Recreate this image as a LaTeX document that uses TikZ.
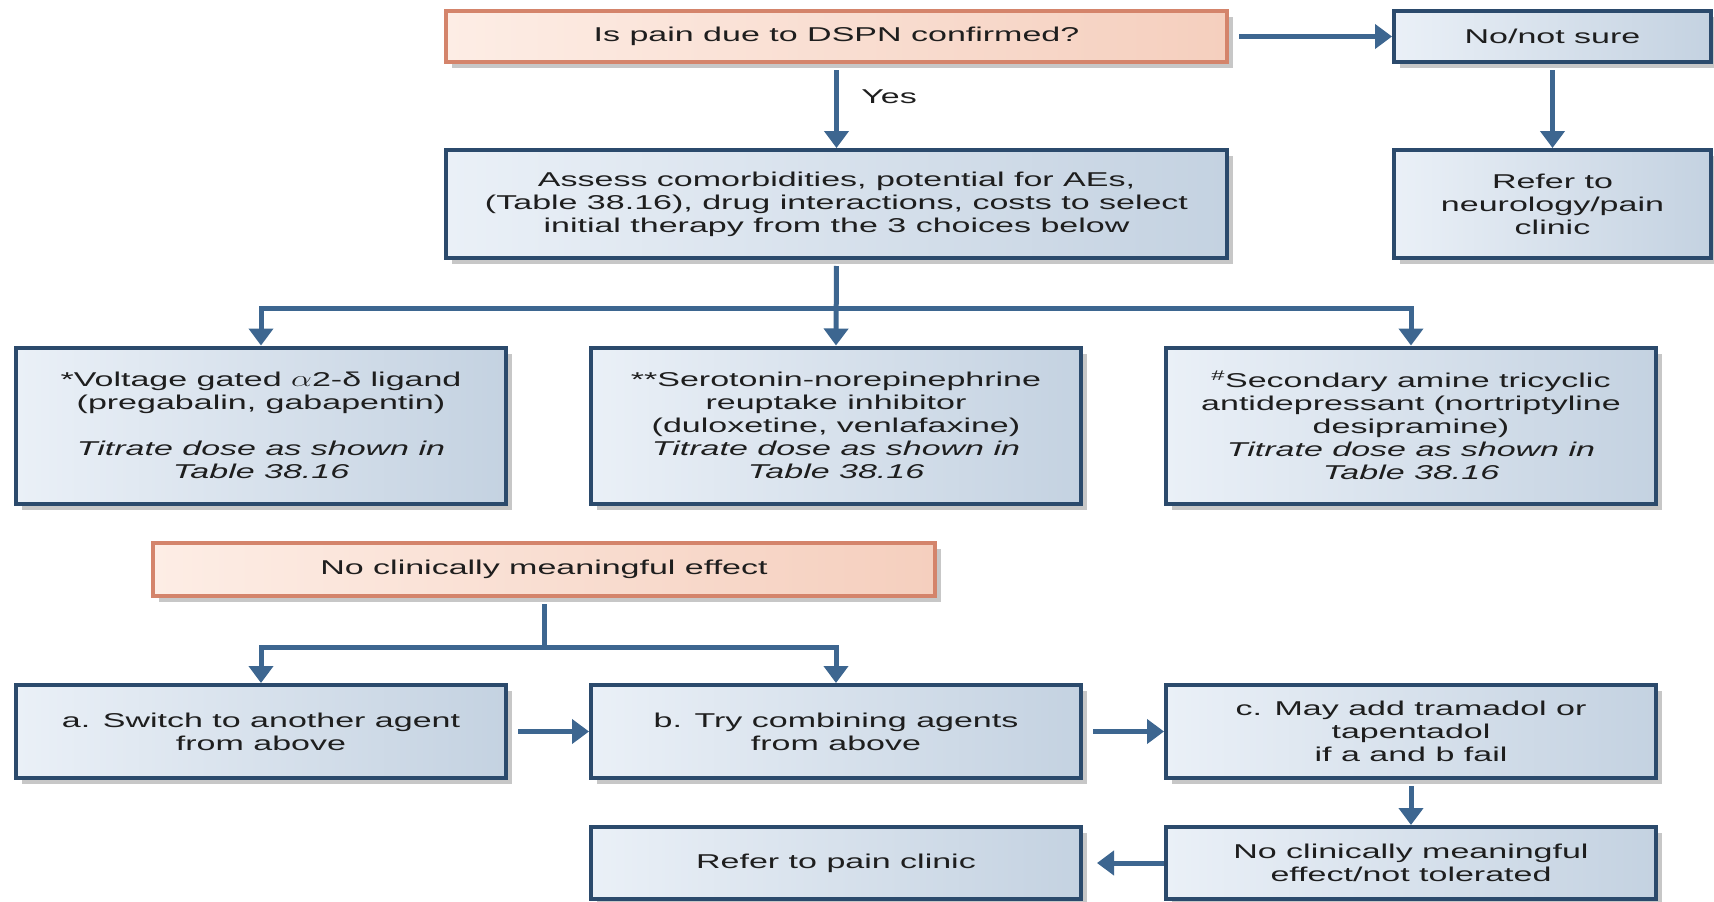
\documentclass[tikz,border=0pt]{standalone}
\usepackage{fontspec}
\setmainfont{Liberation Sans}[FakeStretch=1.7]
\usetikzlibrary{arrows.meta,shadows}
\definecolor{blueL}{HTML}{EAF0F7}
\definecolor{blueR}{HTML}{C4D2E1}
\definecolor{boxborder}{HTML}{2B4A6C}
\definecolor{salL}{HTML}{FDEDE5}
\definecolor{salR}{HTML}{F5CFBE}
\definecolor{salborder}{HTML}{D4846B}
\definecolor{arrowc}{HTML}{3D6690}
\definecolor{txt}{HTML}{1E1E1E}
\tikzset{
  bluebox/.style={draw=boxborder, line width=4pt, left color=blueL, right color=blueR,
    drop shadow={shadow xshift=6pt, shadow yshift=-6pt, opacity=0.22, fill=black},
    align=center, text=txt, inner sep=0pt},
  salbox/.style={bluebox, draw=salborder, left color=salL, right color=salR},
  conn/.style={draw=arrowc, line width=5pt, -{Triangle[width=24pt,length=17pt]}},
  stem/.style={draw=arrowc, line width=5pt},
}
\begin{document}
\begin{tikzpicture}[x=1pt,y=1pt,font=\fontsize{20}{23}\selectfont]
\useasboundingbox (0,0) rectangle (1714,-902);
\fill[white] (0,0) rectangle (1714,-902);
% row 1
\node[salbox, minimum width=781pt, minimum height=51pt] (q) at (836.5,-36.5) {Is pain due to DSPN confirmed?};
\node[bluebox, minimum width=317pt, minimum height=51pt] (no) at (1552.5,-36.5) {No/not sure};
% row 2
\node[bluebox, minimum width=781pt, minimum height=108pt] (assess) at (836.5,-204) {Assess comorbidities, potential for AEs,\\(Table 38.16), drug interactions, costs to select\\initial therapy from the 3 choices below};
\node[bluebox, minimum width=317pt, minimum height=108pt] (ref1) at (1552.5,-204) {Refer to\\neurology/pain\\clinic};
% row 3
\node[bluebox, minimum width=490pt, minimum height=156pt] (b1) at (261,-425.5) {*Voltage gated \scalebox{1.6}[1.1]{$\alpha$}2-δ ligand\\(pregabalin, gabapentin)\\[23pt]\textit{Titrate dose as shown in}\\\textit{Table 38.16}};
\node[bluebox, minimum width=490pt, minimum height=156pt] (b2) at (836,-425.5) {**Serotonin-norepinephrine\\reuptake inhibitor\\(duloxetine, venlafaxine)\\\textit{Titrate dose as shown in}\\\textit{Table 38.16}};
\node[bluebox, minimum width=490pt, minimum height=156pt] (b3) at (1411,-425.5) {\textsuperscript{\#}Secondary amine tricyclic\\antidepressant (nortriptyline\\desipramine)\\\textit{Titrate dose as shown in}\\\textit{Table 38.16}};
% row 4
\node[salbox, minimum width=782pt, minimum height=53pt] (ncm) at (544,-569.5) {No clinically meaningful effect};
% row 5
\node[bluebox, minimum width=490pt, minimum height=93pt] (a) at (261,-731.5) {a. Switch to another agent\\from above};
\node[bluebox, minimum width=490pt, minimum height=93pt] (b) at (836,-731.5) {b. Try combining agents\\from above};
\node[bluebox, minimum width=490pt, minimum height=93pt] (c) at (1411,-731.5) {c. May add tramadol or\\tapentadol\\if a and b fail};
% row 6
\node[bluebox, minimum width=490pt, minimum height=72pt] (rp) at (836,-863) {Refer to pain clinic};
\node[bluebox, minimum width=490pt, minimum height=72pt] (nc) at (1411,-863) {No clinically meaningful\\effect/not tolerated};
% connectors
\draw[conn, shorten <=10pt] (q.east) -- (no.west);
\draw[conn, shorten <=6pt] (q.south) -- (assess.north);
\node[text=txt] (yes) at (889,-97) {Yes};
\draw[conn, shorten <=6pt] (no.south) -- (ref1.north);
\path (assess.south) ++(0,-48) coordinate (bar1);
\draw[conn, shorten <=6pt] (assess.south) -- (b2.north);
\draw[conn] (bar1) -| (b1.north);
\draw[conn] (bar1) -| (b3.north);
\path (ncm.south) ++(0,-49) coordinate (bar2);
\draw[stem, shorten <=6pt] (ncm.south) -- (bar2);
\draw[conn] (bar2) -| (a.north);
\draw[conn] (bar2) -| (b.north);
\draw[conn, shorten <=10pt] (a.east) -- (b.west);
\draw[conn, shorten <=10pt] (b.east) -- (c.west);
\draw[conn, shorten <=6pt] (c.south) -- (nc.north);
\draw[conn, shorten >=14pt] (nc.west) -- (rp.east);
\end{tikzpicture}
\end{document}
